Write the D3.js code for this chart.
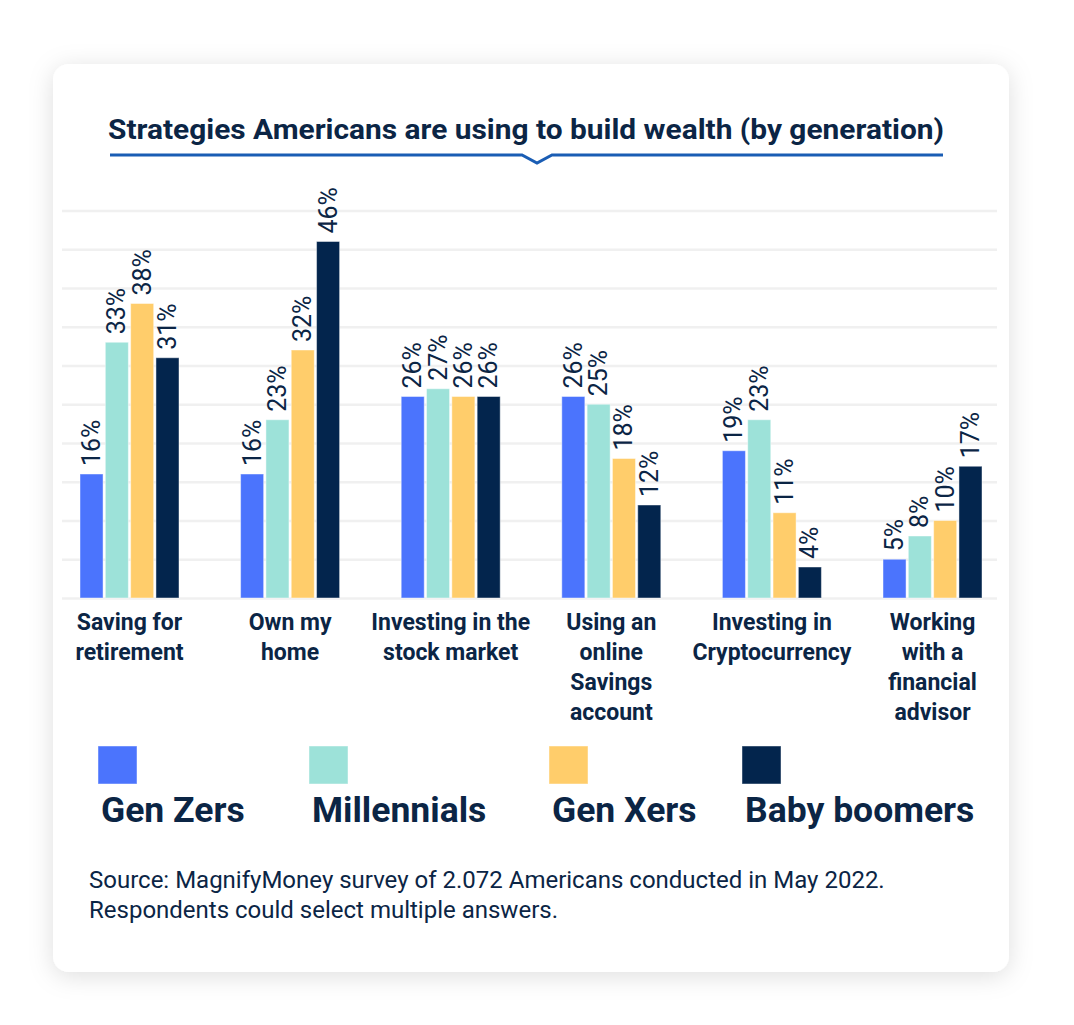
<!DOCTYPE html>
<html>
<head>
<meta charset="utf-8">
<script src="https://cdn.jsdelivr.net/npm/d3@7"></script>
<style>
  html, body { margin: 0; padding: 0; background: #ffffff; }
  svg { display: block; font-family: Roboto, "Noto Sans", sans-serif; }
</style>
</head>
<body>
<svg id="chart" width="1074" height="1025"></svg>
<script>
// ---- data ----
const categories = [
  ["Saving for", "retirement"],
  ["Own my", "home"],
  ["Investing in the", "stock market"],
  ["Using an", "online", "Savings", "account"],
  ["Investing in", "Cryptocurrency"],
  ["Working", "with a", "financial", "advisor"]
];
const seriesNames = ["Gen Zers", "Millennials", "Gen Xers", "Baby boomers"];
const genZers     = [16, 16, 26, 26, 19, 5];
const millennials = [33, 23, 27, 25, 23, 8];
const genXers     = [38, 32, 26, 18, 11, 10];
const boomers     = [31, 46, 26, 12, 4, 17];
const seriesValues = [genZers, millennials, genXers, boomers];
const yTicks = [0, 5, 10, 15, 20, 25, 30, 35, 40, 45, 50];
const titleText = "Strategies Americans are using to build wealth (by generation)";
const sourceLines = [
  "Source: MagnifyMoney survey of 2.072 Americans conducted in May 2022.",
  "Respondents could select multiple answers."
];

// ---- styles ----
const colors = ["#4b74fd", "#9de2d9", "#ffcd6b", "#03254d"];
const textColor = "#0b2545";

const svg = d3.select("#chart");

// card with shadow
const defs = svg.append("defs");
const f = defs.append("filter").attr("id", "shadow")
  .attr("x", "-10%").attr("y", "-10%").attr("width", "120%").attr("height", "120%");
f.append("feDropShadow").attr("dx", 0).attr("dy", 4).attr("stdDeviation", 12)
  .attr("flood-color", "#000").attr("flood-opacity", 0.13);

svg.append("rect").attr("x", 53).attr("y", 64).attr("width", 956).attr("height", 908)
  .attr("rx", 16).attr("fill", "#ffffff").attr("filter", "url(#shadow)");

// title
svg.append("text").attr("x", 526).attr("y", 139).attr("text-anchor", "middle")
  .attr("font-size", 28.5).attr("font-weight", 700).attr("fill", textColor)
  .attr("textLength", 836).attr("lengthAdjust", "spacingAndGlyphs")
  .text(titleText);

// underline with notch
svg.append("path")
  .attr("d", "M110,155 L522,155 L537,163 L552,155 L943,155")
  .attr("fill", "none").attr("stroke", "#1a5db4").attr("stroke-width", 3);

// scales
const x = d3.scalePoint().domain(d3.range(categories.length)).range([129.5, 932.5]);
const xInner = d3.scaleBand().domain(d3.range(seriesNames.length)).range([-49.5, 49.5]).paddingInner(0.09);
const y = d3.scaleLinear().domain([0, 50]).range([598, 210.5]);

// grid
const grid = svg.append("g").attr("transform", "translate(62,0)").call(
  d3.axisLeft(y).tickValues(yTicks).tickSize(-935).tickFormat("")
);
grid.select(".domain").remove();
grid.selectAll(".tick line").attr("stroke", "#f0f0f0").attr("stroke-width", 2.5);

// bars
const groups = svg.append("g").selectAll("g").data(categories).join("g")
  .attr("transform", (d, i) => `translate(${x(i)},0)`);

groups.each(function(cat, ci) {
  const g = d3.select(this);
  const vals = seriesValues.map((s, si) => ({ si, v: s[ci] }));
  g.selectAll("rect").data(vals).join("rect")
    .attr("x", d => xInner(d.si))
    .attr("y", d => y(d.v))
    .attr("width", xInner.bandwidth())
    .attr("height", d => y(0) - y(d.v))
    .attr("fill", d => colors[d.si])
    .attr("stroke", "rgba(255,255,255,0.45)")
    .attr("stroke-width", 1);
  g.selectAll("text.val").data(vals).join("text").attr("class", "val")
    .attr("transform", d => `translate(${xInner(d.si) + xInner.bandwidth() / 2 + 8.5},${y(d.v) - 8}) rotate(-90)`)
    .attr("font-size", 25).attr("fill", textColor)
    .text(d => d.v + "%");
  // category label
  const lbl = g.append("text").attr("text-anchor", "middle")
    .attr("font-size", 23).attr("font-weight", 700).attr("fill", textColor);
  lbl.selectAll("tspan").data(cat).join("tspan")
    .attr("x", 0).attr("y", (d, i) => 630 + i * 30).text(d => d);
});

// legend
const legendX = [98, 309, 549, 742];
const leg = svg.append("g").selectAll("g").data(seriesNames).join("g")
  .attr("transform", (d, i) => `translate(${legendX[i]},0)`);
leg.append("rect").attr("x", 0).attr("y", 746).attr("width", 39).attr("height", 38)
  .attr("fill", (d, i) => colors[i]).attr("stroke", "rgba(255,255,255,0.45)").attr("stroke-width", 1);
leg.append("text").attr("x", 3).attr("y", 822)
  .attr("font-size", 35.5).attr("font-weight", 700).attr("fill", textColor).text(d => d);

// source
svg.append("text").attr("font-size", 24).attr("fill", textColor)
  .selectAll("tspan").data(sourceLines).join("tspan")
  .attr("x", 89).attr("y", (d, i) => 888 + i * 30).text(d => d);
</script>
</body>
</html>
